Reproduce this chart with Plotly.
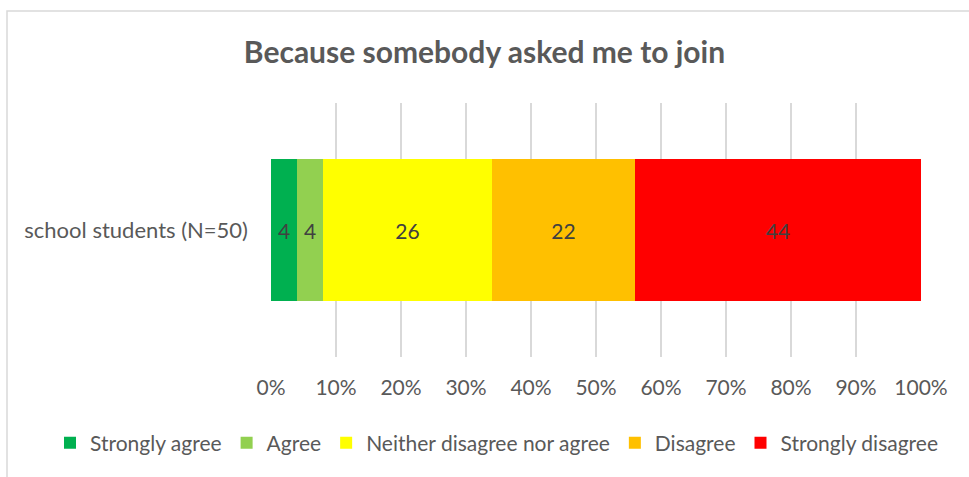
import plotly.graph_objects as go

categories = ["school students (N=50)"]
series_names = ["Strongly agree", "Agree", "Neither disagree nor agree", "Disagree", "Strongly disagree"]
series_values = [[4], [4], [26], [22], [44]]
series_colors = ["#00B050", "#92D050", "#FFFF00", "#FFC000", "#FF0000"]
tick_vals = [0, 10, 20, 30, 40, 50, 60, 70, 80, 90, 100]
tick_text = ["0%", "10%", "20%", "30%", "40%", "50%", "60%", "70%", "80%", "90%", "100%"]

FONT = "Lato, Open Sans, sans-serif"
W, H = 969, 477
L, R, T, B = 271, 48, 103, 120
PW, PH = W - L - R, H - T - B

fig = go.Figure()
for name, vals, col in zip(series_names, series_values, series_colors):
    total = [sum(v[i] for v in series_values) for i in range(len(categories))]
    pct = [100 * v / t for v, t in zip(vals, total)]
    fig.add_trace(go.Bar(
        y=categories, x=pct, name=name, orientation="h",
        marker=dict(color=col, line=dict(width=0)),
        text=[str(v) for v in vals], textposition="inside",
        insidetextanchor="middle",
        textfont=dict(family=FONT, size=21, color="#404040"),
        hoverinfo="skip",
    ))

fig.update_layout(
    barmode="stack",
    bargap=0.44,
    width=W, height=H,
    margin=dict(l=L, r=R, t=T, b=B),
    paper_bgcolor="white", plot_bgcolor="white",
    font=dict(family=FONT, color="#595959", size=21),
    title=dict(text="<b>Because somebody asked me to join</b>",
               x=0.5, xref="container", xanchor="center",
               y=1 - 52 / H, yref="container", yanchor="middle",
               font=dict(family=FONT, size=30, color="#595959")),
    xaxis=dict(range=[0, 100], tickvals=tick_vals, ticktext=tick_text,
               showgrid=True, gridcolor="#D9D9D9", gridwidth=1.5,
               zeroline=False, showline=False, ticks="",
               tickfont=dict(family=FONT, size=21, color="#595959"),
               ticklabelstandoff=16, fixedrange=True),
    yaxis=dict(showgrid=False, zeroline=False, showline=False, ticks="",
               tickfont=dict(family=FONT, size=22, color="#595959"),
               ticklabelstandoff=22, fixedrange=True),
    legend=dict(orientation="h", x=(50 - L) / PW, xanchor="left",
                y=(H - B - 443) / PH, yanchor="middle",
                font=dict(family=FONT, size=21, color="#595959"),
                traceorder="normal", itemwidth=30),
    showlegend=True,
)

fig.add_shape(type="rect", xref="paper", yref="paper",
              x0=(7 - L) / PW, x1=2.0, y0=-2.0, y1=(H - B - 11) / PH,
              line=dict(color="#D9D9D9", width=1.5), fillcolor="rgba(0,0,0,0)",
              layer="below")

fig.write_html("out.html", config={"displayModeBar": False},
               post_script="document.body.style.margin='0';document.body.style.overflow='hidden';")
